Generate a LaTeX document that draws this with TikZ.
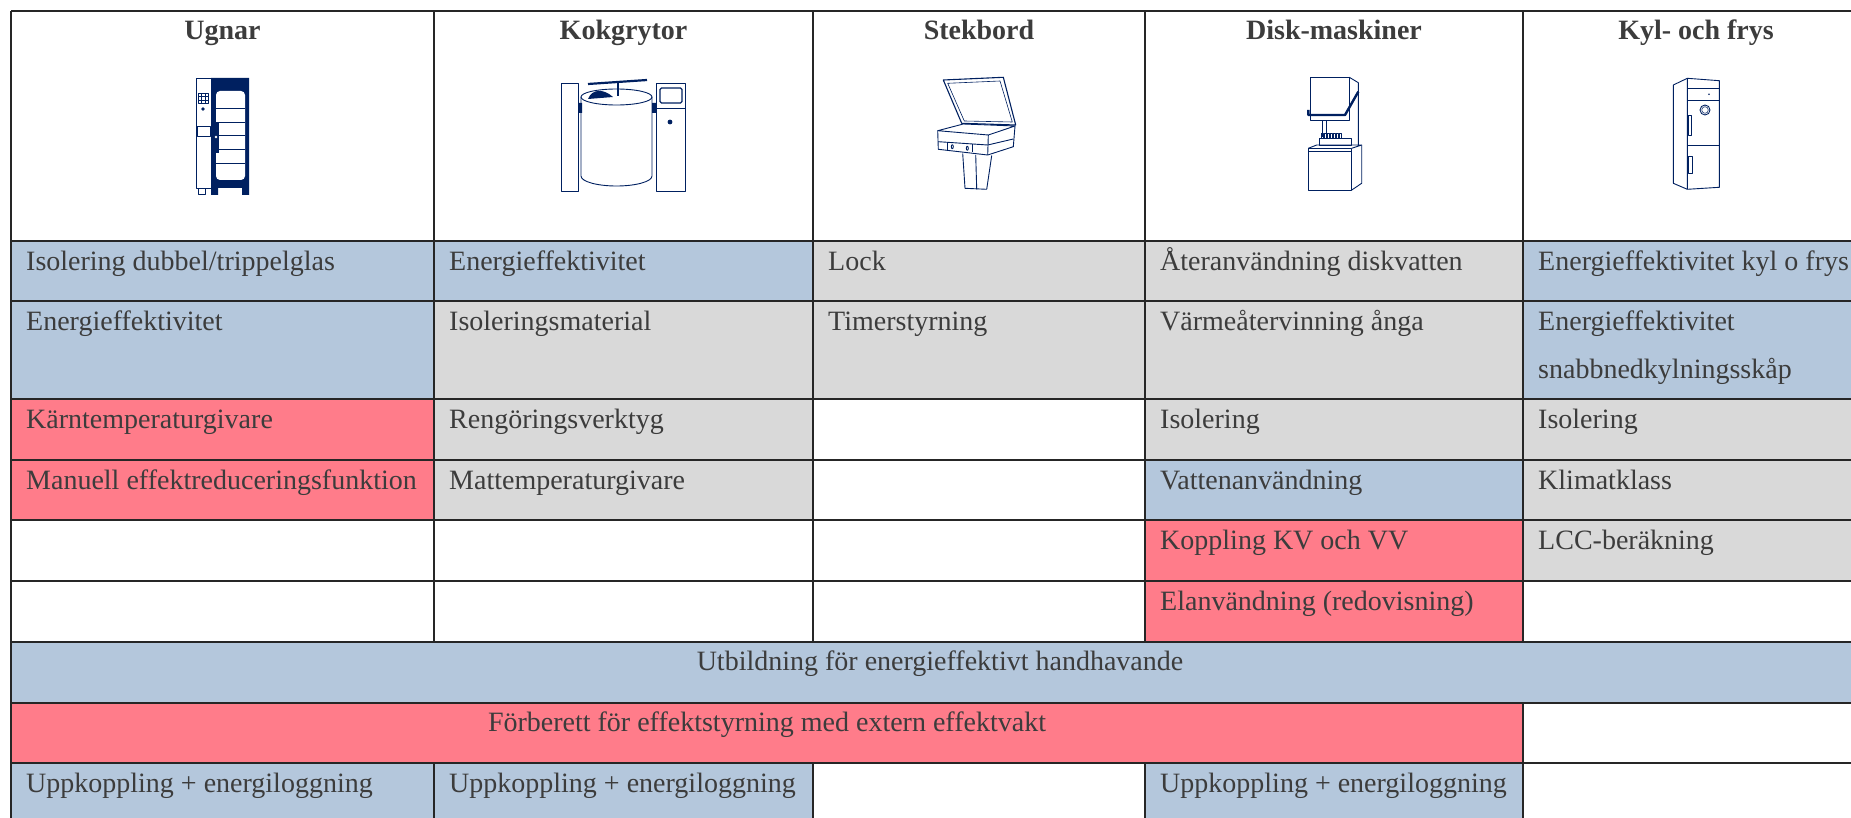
\documentclass[tikz,border=0pt]{standalone}
\usepackage{fontspec}
\setmainfont{Liberation Serif}
\usepackage{tikz}

\definecolor{cellblue}{RGB}{180,199,220}
\definecolor{cellpink}{RGB}{255,124,138}
\definecolor{cellgrey}{RGB}{217,217,217}
\definecolor{navy}{RGB}{0,32,96}
\definecolor{ink}{RGB}{60,60,60}

\begin{document}
\begin{tikzpicture}[x=1pt,y=-1pt,
  cell/.style = {anchor=base west, inner sep=0pt, text=ink, font=\fontsize{28}{34}\selectfont},
  headtext/.style = {anchor=base, inner sep=0pt, text=ink, font=\fontsize{28}{34}\selectfont\bfseries},
  spantext/.style = {anchor=base, inner sep=0pt, text=ink, font=\fontsize{28}{34}\selectfont},
  rule/.style = {draw=black!85, line width=1.7pt},
  icon/.style = {navy, line width=0.9pt, line join=round}]
\useasboundingbox (0,0) rectangle (1851,818);
\clip (0,0) rectangle (1851,818);

% cell colours
\foreach \xa/\xb/\ya/\yb/\c in {
  11/434/241/301/cellblue, 434/813/241/301/cellblue, 813/1145/241/301/cellgrey,
  1145/1523/241/301/cellgrey, 1523/1880/241/301/cellblue,
  11/434/301/399/cellblue, 434/813/301/399/cellgrey, 813/1145/301/399/cellgrey,
  1145/1523/301/399/cellgrey, 1523/1880/301/399/cellblue,
  11/434/399/460/cellpink, 434/813/399/460/cellgrey, 1145/1523/399/460/cellgrey,
  1523/1880/399/460/cellgrey,
  11/434/460/520/cellpink, 434/813/460/520/cellgrey, 1145/1523/460/520/cellblue,
  1523/1880/460/520/cellgrey,
  1145/1523/520/581/cellpink, 1523/1880/520/581/cellgrey,
  1145/1523/581/642/cellpink,
  11/1880/642/703/cellblue,
  11/1523/703/763/cellpink,
  11/434/763/830/cellblue, 434/813/763/830/cellblue, 1145/1523/763/830/cellblue}
  \fill[\c] (\xa,\ya) rectangle (\xb,\yb);

% grid
\foreach \y in {11,241,301,399,460,520,581,642,703,763}
  \draw[rule] (11,\y) -- (1880,\y);
\foreach \x in {434,813,1145,1523} {
  \draw[rule] (\x,11) -- (\x,642);
  \draw[rule] (\x,763) -- (\x,830);
}
\draw[rule] (1523,703) -- (1523,763);
\draw[rule] (11,11) -- (11,830);

% headers
\node[headtext] (hUgnar) at (222.5,40) {Ugnar};
\node[headtext] (hKok) at (623.5,40) {Kokgrytor};
\node[headtext] (hStek) at (979,40) {Stekbord};
\node[headtext] (hDisk) at (1334,40) {Disk-maskiner};
\node[headtext] (hKyl) at (1696,40) {Kyl- och frys};

% Ugnar
\node[cell] (u1) at (26,270) {Isolering dubbel/trippelglas};
\node[cell] (u2) at (26,330) {Energieffektivitet};
\node[cell] (u3) at (26,428) {Kärntemperaturgivare};
\node[cell] (u4) at (26,489) {Manuell effektreduceringsfunktion};
\node[cell] (u9) at (26,792) {Uppkoppling + energiloggning};
% Kokgrytor
\node[cell] (k1) at (449,270) {Energieffektivitet};
\node[cell] (k2) at (449,330) {Isoleringsmaterial};
\node[cell] (k3) at (449,428) {Rengöringsverktyg};
\node[cell] (k4) at (449,489) {Mattemperaturgivare};
\node[cell] (k9) at (449,792) {Uppkoppling + energiloggning};
% Stekbord
\node[cell] (s1) at (828,270) {Lock};
\node[cell] (s2) at (828,330) {Timerstyrning};
% Disk-maskiner
\node[cell] (d1) at (1160,270) {Återanvändning diskvatten};
\node[cell] (d2) at (1160,330) {Värmeåtervinning ånga};
\node[cell] (d3) at (1160,428) {Isolering};
\node[cell] (d4) at (1160,489) {Vattenanvändning};
\node[cell] (d5) at (1160,549) {Koppling KV och VV};
\node[cell] (d6) at (1160,610) {Elanvändning (redovisning)};
\node[cell] (d9) at (1160,792) {Uppkoppling + energiloggning};
% Kyl- och frys
\node[cell] (f1) at (1538,270) {Energieffektivitet kyl o frys};
\node[cell] (f2) at (1538,330) {Energieffektivitet};
\node[cell] (f2b) at (1538,378) {snabbnedkylningsskåp};
\node[cell] (f3) at (1538,428) {Isolering};
\node[cell] (f4) at (1538,489) {Klimatklass};
\node[cell] (f5) at (1538,549) {LCC-beräkning};
% spanning rows
\node[spantext] (utb) at (940,670) {Utbildning för energieffektivt handhavande};
\node[spantext] (forb) at (767,731) {Förberett för effektstyrning med extern effektvakt};

% icon: oven
\begin{scope}[icon]
\draw (196,78) rectangle (211,188);
\draw (197,126) rectangle (210,136);
\draw (198,188) rectangle (205,194);
\foreach \i in {0,1,2} \foreach \j in {0,1,2}
  \draw[line width=0.5pt] (198+\i*3.4,93+\j*3.4) rectangle ++(3.4,3.4);
\fill (203,109) circle (1.8);
\fill (211,78) rectangle (249,188) (211,188) rectangle (218,195) (242,188) rectangle (249,195);
\fill[white, rounded corners=4pt] (216,91) rectangle (245,180);
\foreach \y in {108,122,135,149,163}
  \draw (216,\y) -- (245,\y);
\fill (213,122) rectangle (219,153);
\fill[white] (216,137) circle (1.3);
\end{scope}

% icon: kettle
\begin{scope}[icon]
\draw (561,83) rectangle (578,191);
\draw (656,83) rectangle (685,191);
\draw (656,108) -- (685,108);
\draw[line width=1.3pt, rounded corners=1.5pt] (660,88) rectangle (682,103);
\fill (670,122) circle (2.4);
\draw (581,97) -- (581,176) arc[start angle=180, end angle=0, x radius=35.5, y radius=10] -- (652,97);
\draw (616.5,97) ellipse [x radius=35.5, y radius=8];
\fill (578,103) rectangle (582,113) (652,103) rectangle (656,113);
\fill (588,99) .. controls (592,89) and (603,88) .. (613,97) -- cycle;
\draw[line width=2.2pt] (588,84) -- (647,80);
\draw[line width=2pt] (618,82) -- (618,96);
\end{scope}

% icon: griddle
\begin{scope}[icon]
\draw[line width=1.1pt] (943.3,80) -- (1003.3,77.3) -- (1015.7,125) -- (961.7,123.3) -- cycle;
\draw[line width=0.6pt] (947.7,83.3) -- (1000,81) -- (1012.3,122) -- (964.3,121) -- cycle;
\draw (937.7,130.7) -- (963.3,124) -- (1015,126) -- (988.3,135) -- cycle;
\draw (937.7,130.7) -- (938.3,149.3) -- (987.7,155) -- (1013.3,146.7) -- (1015,126);
\draw (988.3,135) -- (987.7,155);
\draw (938.3,141.7) -- (987.7,145) -- (1013.3,139);
\draw (947.7,142.3) -- (947.7,150.3) (972.3,144) -- (972.3,152.3);
\draw (952.3,146.7) ellipse [x radius=1, y radius=2];
\draw (967.3,148.3) ellipse [x radius=1, y radius=2];
\draw (962.7,153.5) -- (965,188.3) -- (986.7,189.3) -- (991.7,155.5);
\draw (975.7,155) -- (976.7,189.3);
\end{scope}

% icon: dishwasher
\begin{scope}[icon]
\draw (1310.7,77.3) rectangle (1349.3,120.7);
\draw (1349.3,77.3) -- (1358.3,82.7) -- (1358.3,145);
\draw[line width=2.4pt] (1308.3,110) -- (1308.3,115) -- (1345,115) -- (1358.3,91.7);
\draw (1322.3,120.7) -- (1322.3,137) (1326,120.7) -- (1326,137);
\draw (1319.3,138.3) rectangle (1351.7,145);
\foreach \x in {1321,1324,...,1339}
  \draw[line width=0.6pt] (\x,133.5) rectangle ++(2.6,4.8);
\draw (1308.3,148.3) rectangle (1351.7,190);
\draw (1308.3,148.3) -- (1316.7,145) -- (1361.7,145) -- (1351.7,148.3);
\draw (1361.7,145) -- (1361.7,183.3) -- (1351.7,190);
\draw (1308.3,151.5) -- (1351.7,151.5);
\end{scope}

% icon: fridge
\begin{scope}[icon]
\draw (1687.3,78.3) -- (1719.3,80.7) -- (1719.3,187.3) -- (1687.3,189.3) -- cycle;
\draw (1687.3,78.3) -- (1673.3,85) -- (1673.3,183.3) -- (1687.3,189.3);
\draw (1687.3,88.3) -- (1719.3,88.3) (1687.3,100) -- (1719.3,100) (1687.3,145) -- (1719.3,145);
\fill (1709,94.3) circle (0.9);
\draw (1705,110) circle (5);
\draw[line width=0.5pt] (1705,110) circle (3.3);
\draw (1688.3,115) rectangle (1691.7,135);
\draw (1688.3,156) rectangle (1692,173.3);
\end{scope}
\end{tikzpicture}
\end{document}
